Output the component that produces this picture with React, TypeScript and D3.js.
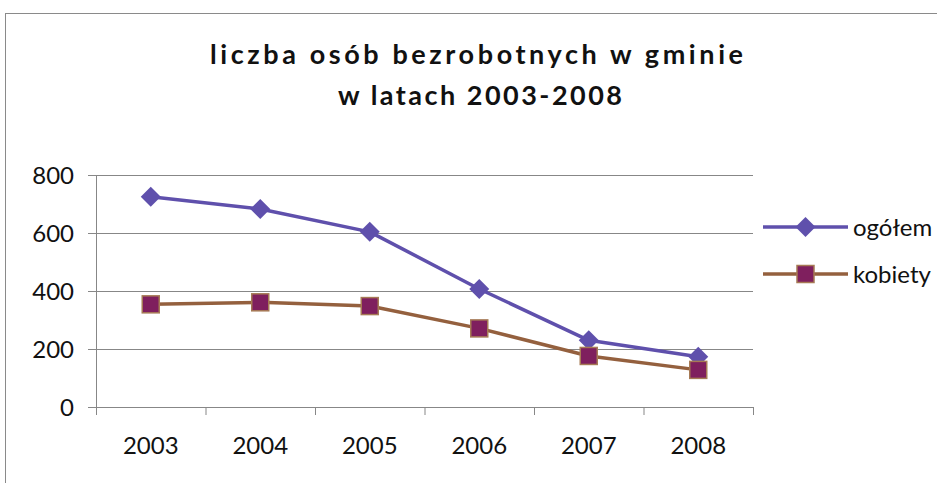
import React from "react";
import * as d3 from "d3";

const years = ["2003", "2004", "2005", "2006", "2007", "2008"];
const ogolem = [725, 683, 604, 407, 230, 173];
const kobiety = [354, 361, 348, 271, 176, 128];
const yTicks = [0, 200, 400, 600, 800];
const titleLines = ["liczba osób bezrobotnych w gminie", "w latach 2003-2008"];
const seriesNames = ["ogółem", "kobiety"];

const W = 937;
const H = 483;
const left = 96;
const right = 753;
const top = 175;
const bottom = 407;

const purple = "#5F50AC";
const brown = "#94603E";
const sqFill = "#7F1F5E";
const sqStroke = "#A67A55";
const grid = "#878787";
const font = "Lato, 'Open Sans', sans-serif";

export default function App() {
  const x = d3.scaleBand<string>().domain(years).range([left, right]).padding(0);
  const y = d3.scaleLinear().domain([0, 800]).range([bottom, top]);
  const cx = (d: string) => (x(d) as number) + x.bandwidth() / 2;
  const line = d3
    .line<number>()
    .x((_, i) => cx(years[i]))
    .y((v) => y(v));

  const diamond = (px: number, py: number, r: number) =>
    `M${px},${py - r}L${px + r},${py}L${px},${py + r}L${px - r},${py}Z`;

  const boundaries = years.map((d) => x(d) as number).concat([right]);

  return (
    <svg width={W} height={H} style={{ position: "absolute", left: 0, top: 0, background: "#fff" }}>
      <rect x={5.5} y={13.5} width={W + 10} height={H + 10} fill="#fff" stroke="#8a8a8a" strokeWidth={1} />
      {titleLines.map((t, i) => (
        <text
          key={t}
          x={i === 0 ? 210 : 338}
          y={i === 0 ? 64 : 105}
          fontFamily={font}
          fontWeight={700}
          fontSize={27}
          fill="#111"
          textLength={i === 0 ? 533 : 284}
          lengthAdjust="spacing"
        >
          {t}
        </text>
      ))}
      {yTicks.map((t) => (
        <g key={t}>
          <line x1={left} x2={right} y1={y(t) + 0.5} y2={y(t) + 0.5} stroke={grid} strokeWidth={1} />
          <line x1={left - 8} x2={left} y1={y(t) + 0.5} y2={y(t) + 0.5} stroke={grid} strokeWidth={1} />
          <text
            x={74}
            y={y(t)}
            dy="0.36em"
            textAnchor="end"
            fontFamily={font}
            fontSize={24}
            fill="#111"
          >
            {t}
          </text>
        </g>
      ))}
      <line x1={left + 0.5} x2={left + 0.5} y1={top} y2={bottom + 8} stroke={grid} strokeWidth={1} />
      {boundaries.map((b, i) => (
        <line key={i} x1={b + 0.5} x2={b + 0.5} y1={bottom} y2={bottom + 8} stroke={grid} strokeWidth={1} />
      ))}
      {years.map((d) => (
        <text key={d} x={cx(d)} y={454} textAnchor="middle" fontFamily={font} fontSize={24} fill="#111">
          {d}
        </text>
      ))}
      <path d={line(ogolem) || ""} fill="none" stroke={purple} strokeWidth={3.5} strokeLinejoin="round" />
      <path d={line(kobiety) || ""} fill="none" stroke={brown} strokeWidth={3.5} strokeLinejoin="round" />
      {ogolem.map((v, i) => (
        <path key={"o" + i} d={diamond(cx(years[i]), y(v), 10)} fill={purple} />
      ))}
      {kobiety.map((v, i) => (
        <rect
          key={"k" + i}
          x={cx(years[i]) - 8.5}
          y={y(v) - 8.5}
          width={17}
          height={17}
          fill={sqFill}
          stroke={sqStroke}
          strokeWidth={1.5}
        />
      ))}
      {/* legend */}
      <line x1={763} x2={848} y1={227} y2={227} stroke={purple} strokeWidth={3.5} />
      <path d={diamond(805.5, 227, 10)} fill={purple} />
      <text x={853} y={227} dy="0.36em" fontFamily={font} fontSize={24} fill="#111">
        {seriesNames[0]}
      </text>
      <line x1={763} x2={848} y1={274} y2={274} stroke={brown} strokeWidth={3.5} />
      <rect x={797} y={265.5} width={17} height={17} fill={sqFill} stroke={sqStroke} strokeWidth={1.5} />
      <text x={853} y={274} dy="0.36em" fontFamily={font} fontSize={24} fill="#111">
        {seriesNames[1]}
      </text>
    </svg>
  );
}
